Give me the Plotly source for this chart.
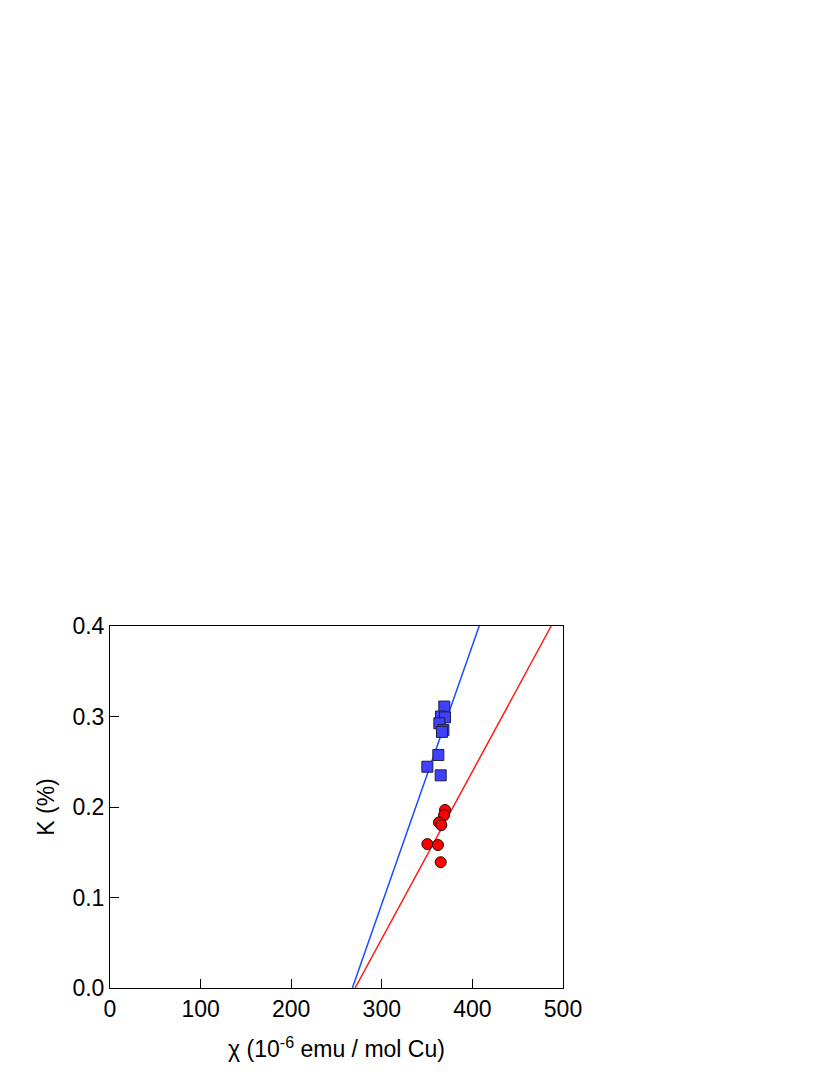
import plotly.graph_objects as go

# blue squares
chi_sq = [369.0, 365.3, 369.8, 363.5, 368.0, 366.4, 362.4, 350.3, 365.0]
k_sq = [0.311, 0.300, 0.299, 0.2925, 0.285, 0.283, 0.2575, 0.2445, 0.235]

# red circles
chi_ci = [369.8, 368.7, 363.1, 365.7, 350.3, 362.0, 365.0]
k_ci = [0.1967, 0.191, 0.183, 0.180, 0.159, 0.158, 0.139]

# straight-line fits (end points)
blue_fit_x = [267.5, 407.5]
blue_fit_y = [0.0, 0.4]
red_fit_x = [270.5, 487.0]
red_fit_y = [0.0, 0.4]

fig = go.Figure()
fig.add_trace(go.Scatter(x=blue_fit_x, y=blue_fit_y, mode="lines",
                         line=dict(color="#1a4dff", width=1.5), showlegend=False))
fig.add_trace(go.Scatter(x=red_fit_x, y=red_fit_y, mode="lines",
                         line=dict(color="#ff1a1a", width=1.5), showlegend=False))
fig.add_trace(go.Scatter(x=chi_sq, y=k_sq, mode="markers",
                         marker=dict(symbol="square", size=11, color="#4040ff",
                                     line=dict(color="#202040", width=1)),
                         showlegend=False))
fig.add_trace(go.Scatter(x=chi_ci, y=k_ci, mode="markers",
                         marker=dict(symbol="circle", size=11, color="#ff0000",
                                     line=dict(color="#300000", width=1)),
                         showlegend=False))

axis_font = dict(family="Liberation Sans, Arial, sans-serif", size=23, color="black")
fig.update_xaxes(range=[0, 500], tickvals=[0, 100, 200, 300, 400, 500],
                 ticks="inside", ticklen=9, tickwidth=1, tickcolor="black",
                 showline=True, linecolor="black", linewidth=1, mirror=True,
                 showgrid=False, zeroline=False, tickfont=axis_font,
                 title=dict(text="χ (10<sup>-6</sup> emu / mol Cu)", font=axis_font, standoff=20))
fig.update_yaxes(range=[0, 0.4], tickvals=[0, 0.1, 0.2, 0.3, 0.4],
                 ticktext=["0.0", "0.1", "0.2", "0.3", "0.4"],
                 ticks="inside", ticklen=9, tickwidth=1, tickcolor="black",
                 showline=True, linecolor="black", linewidth=1, mirror=True,
                 showgrid=False, zeroline=False, tickfont=axis_font,
                 title=dict(text="K (%)", font=axis_font, standoff=11))
fig.update_layout(width=830, height=1075, plot_bgcolor="white", paper_bgcolor="white",
                  margin=dict(l=102, r=275, t=618, b=95, autoexpand=False))
fig.write_html("out.html")
